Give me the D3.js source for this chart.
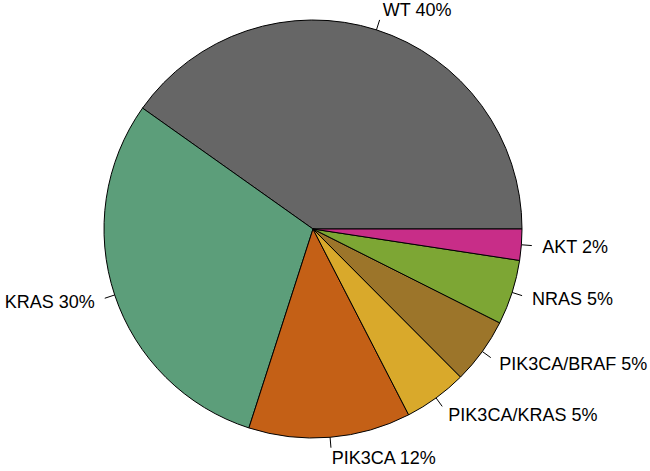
<!DOCTYPE html>
<html>
<head>
<meta charset="utf-8">
<script src="https://cdn.jsdelivr.net/npm/d3@7"></script>
<style>
    body { margin: 0; background: #fff; }
    svg text { font-family: "Liberation Sans", Arial, sans-serif; }
</style>
</head>
<body>
<div id="pie_chart"></div>
<script>
// slice data (order as drawn, counterclockwise from 3 o'clock)
let categories = ["WT", "KRAS", "PIK3CA", "PIK3CA/KRAS", "PIK3CA/BRAF", "NRAS", "AKT"];
let values = [40.1, 29.8, 12.5, 4.9, 5.1, 5.0, 2.4];
let labels = ["WT 40%", "KRAS 30%", "PIK3CA 12%", "PIK3CA/KRAS 5%", "PIK3CA/BRAF 5%", "NRAS 5%", "AKT 2%"];
let colors = ["#666666", "#5C9E7A", "#C46016", "#D9A92B", "#9C752A", "#7DA634", "#C82D88"];

let width = 650, height = 471;
let cx = 313, cy = 229, radius = 209;

let svg = d3.select("#pie_chart")
    .append("svg")
    .attr("width", width)
    .attr("height", height)
    .append("g")
    .attr("transform", "translate(" + cx + "," + cy + ")");

// d3 angles run clockwise from 12 o'clock; R's pie runs counterclockwise from 3 o'clock
let pie = d3.pie()
    .sort(null)
    .value(function(d) { return d; })
    .startAngle(Math.PI / 2)
    .endAngle(Math.PI / 2 - 2 * Math.PI);

let arcs = pie(values);

let arc = d3.arc()
    .innerRadius(0)
    .outerRadius(radius);

svg.selectAll("path.slice")
    .data(arcs)
    .enter()
    .append("path")
    .attr("class", "slice")
    .attr("d", arc)
    .attr("fill", function(d, i) { return colors[i]; })
    .attr("stroke", "#000")
    .attr("stroke-width", 1);

// label ticks and text
function midAngle(d) { return (d.startAngle + d.endAngle) / 2; }

svg.selectAll("line.tick")
    .data(arcs)
    .enter()
    .append("line")
    .attr("x1", function(d) { return radius * Math.sin(midAngle(d)); })
    .attr("y1", function(d) { return -radius * Math.cos(midAngle(d)); })
    .attr("x2", function(d) { return 1.05 * radius * Math.sin(midAngle(d)); })
    .attr("y2", function(d) { return -1.05 * radius * Math.cos(midAngle(d)); })
    .attr("stroke", "#000")
    .attr("stroke-width", 1);

svg.selectAll("text.label")
    .data(arcs)
    .enter()
    .append("text")
    .attr("x", function(d) { return 1.1 * radius * Math.sin(midAngle(d)); })
    .attr("y", function(d) { return -1.1 * radius * Math.cos(midAngle(d)); })
    .attr("dy", "0.35em")
    .attr("text-anchor", function(d) { return Math.sin(midAngle(d)) >= 0 ? "start" : "end"; })
    .style("font-size", "18px")
    .attr("fill", "#000")
    .text(function(d, i) { return labels[i]; });
</script>
</body>
</html>
